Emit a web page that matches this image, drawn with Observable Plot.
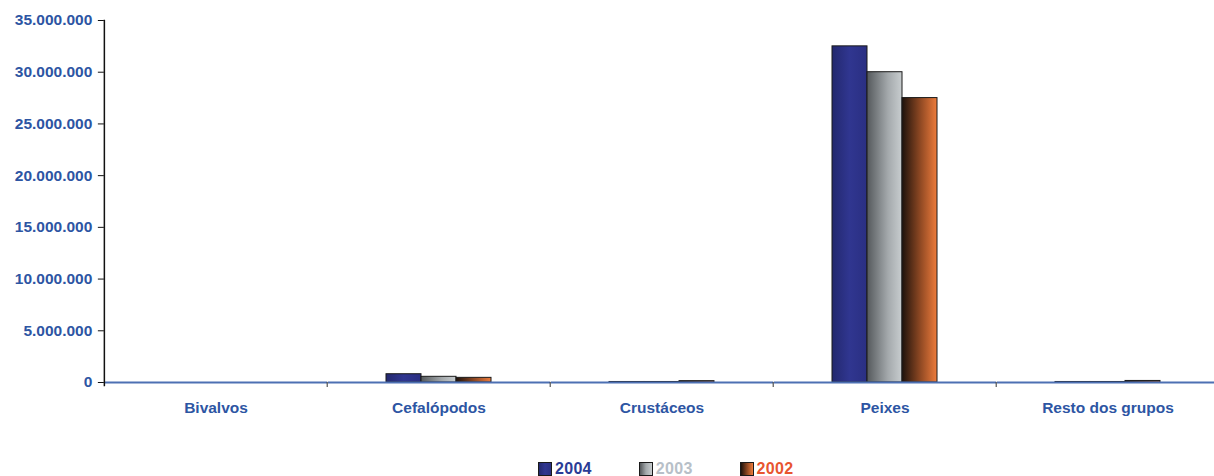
<!DOCTYPE html>
<html><head><meta charset="utf-8">
<script src="https://cdn.jsdelivr.net/npm/d3@7"></script>
<script src="https://cdn.jsdelivr.net/npm/@observablehq/plot@0.6"></script>
<style>
html,body{margin:0;padding:0;background:#fff}
body{position:relative;width:1214px;height:476px;overflow:hidden;font-family:"Liberation Sans",Arial,sans-serif}
#chart{position:absolute;left:0;top:0}
#legend{position:absolute;left:538px;top:460px;display:flex;align-items:center;font-weight:bold;font-size:16px;letter-spacing:0.3px}
.item{display:flex;align-items:center;margin-right:47px}
.sw{width:12px;height:12px;border:1px solid #1a1a1a;margin-right:3px;box-sizing:content-box}
</style></head><body>
<svg width="0" height="0" style="position:absolute">
  <defs>
    <linearGradient id="g2004" x1="0" x2="1" y1="0" y2="0">
      <stop offset="0" stop-color="#23286e"/>
      <stop offset="0.5" stop-color="#303690"/>
      <stop offset="1" stop-color="#2a2f82"/>
    </linearGradient>
    <linearGradient id="g2003" x1="0" x2="1" y1="0" y2="0">
      <stop offset="0" stop-color="#55595c"/>
      <stop offset="0.6" stop-color="#a4a9ac"/>
      <stop offset="1" stop-color="#c8cdcf"/>
    </linearGradient>
    <linearGradient id="g2002" x1="0" x2="1" y1="0" y2="0">
      <stop offset="0" stop-color="#1d120c"/>
      <stop offset="0.5" stop-color="#8a4622"/>
      <stop offset="1" stop-color="#ee7c3c"/>
    </linearGradient>
  </defs>
</svg>
<div id="chart"></div>
<div id="legend"></div>
<script>
const categories = ["Bivalvos", "Cefalópodos", "Crustáceos", "Peixes", "Resto dos grupos"];
const years = ["2004", "2003", "2002"];
const values2004 = [0, 800000, 50000, 32500000, 50000];
const values2003 = [0, 550000, 50000, 30000000, 50000];
const values2002 = [0, 450000, 130000, 27500000, 150000];
const yTicks = [0, 5000000, 10000000, 15000000, 20000000, 25000000, 30000000, 35000000];
const yearFills = ["url(#g2004)", "url(#g2003)", "url(#g2002)"];
const legendSwatches = [
  "linear-gradient(to right,#23286e,#303690,#2a2f82)",
  "linear-gradient(to right,#55595c,#a4a9ac,#c8cdcf)",
  "linear-gradient(to right,#1d120c,#8a4622,#ee7c3c)"
];
const legendTextColors = ["#2a3c96", "#b7c0c8", "#e8552f"];

const seriesByYear = [values2004, values2003, values2002];
const data = categories.flatMap((c, i) => years.map((y, j) => ({category: c, year: y, value: seriesByYear[j][i]})));

const fmt = d3.formatLocale({decimal: ",", thousands: ".", grouping: [3], currency: ["", ""]}).format(",d");
const blue = "#2d55a3";
const W = 1221, ML = 103, MR = 0;
const padInner = 0.52, padOuter = padInner / 2;
const step = (W - ML - MR) / categories.length;
const outer = step * padOuter; // distance from a band's edge to its step boundary

const plot = Plot.plot({
  width: W, height: 450,
  marginLeft: ML, marginRight: MR, marginTop: 20, marginBottom: 68,
  style: {fontFamily: '"Liberation Sans", Arial, sans-serif', maxWidth: "none", background: "transparent", overflow: "visible"},
  fx: {domain: categories, paddingInner: padInner, paddingOuter: padOuter, label: null, axis: null},
  x: {domain: years, padding: 0, axis: null},
  y: {domain: [0, 35000000], axis: null},
  color: {domain: years, range: yearFills},
  marks: [
    Plot.barY(data, {fx: "category", x: "year", y: "value", fill: "year", stroke: "#1a1a1a", strokeWidth: 1}),
    Plot.ruleY([0], {stroke: "#4d70b3", strokeWidth: 2, insetLeft: -outer + 1, insetRight: -outer}),
    Plot.frame({anchor: "left", facetAnchor: "left", dx: -outer, stroke: "#111", strokeWidth: 1.5, insetBottom: -3}),
    Plot.axisY({ticks: yTicks, tickFormat: fmt, tickSize: 6, tickPadding: 6, stroke: "#111", dx: -outer,
      fill: blue, fontSize: 15.5, fontWeight: "bold", letterSpacing: 0.3, label: null}),
    Plot.axisFx({anchor: "bottom", ticks: categories, tickSize: 0, tickPadding: 19, fill: blue, fontSize: 15.5,
      fontWeight: "bold", letterSpacing: 0.6, label: null}),
    Plot.axisFx({anchor: "bottom", ticks: categories.slice(1), tickSize: 5, tickFormat: () => "", stroke: "#333", dx: -step / 2, label: null})
  ]
});
document.getElementById("chart").appendChild(plot);

const legend = document.getElementById("legend");
years.forEach((y, j) => {
  const item = document.createElement("div");
  item.className = "item";
  const sw = document.createElement("span");
  sw.className = "sw";
  sw.style.background = legendSwatches[j];
  const t = document.createElement("span");
  t.textContent = y;
  t.style.color = legendTextColors[j];
  item.appendChild(sw); item.appendChild(t);
  legend.appendChild(item);
});
</script>
</body></html>
